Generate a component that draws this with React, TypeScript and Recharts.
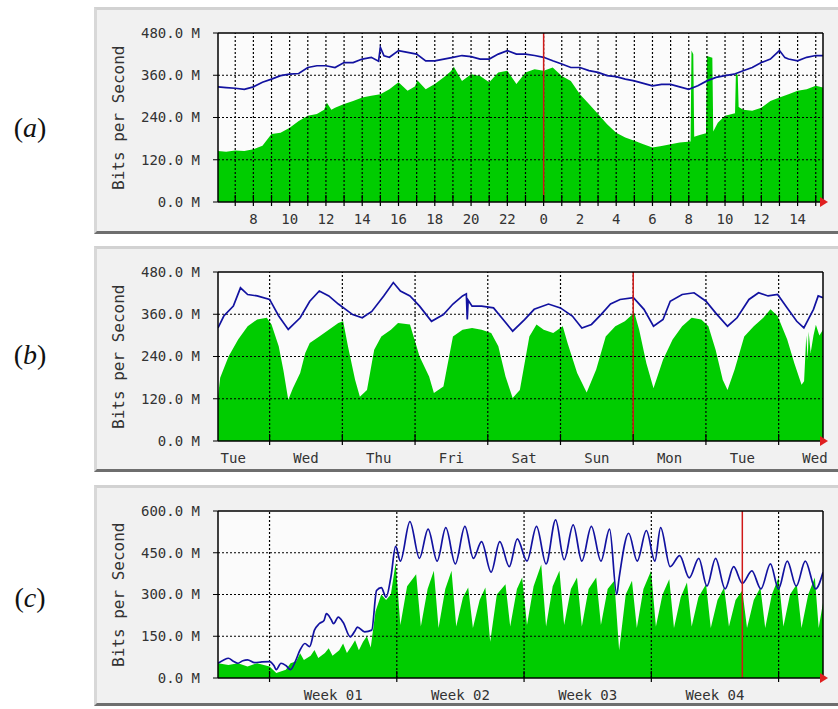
import React from 'react';
import {
  ComposedChart,
  Area,
  Line,
  XAxis,
  YAxis,
  ReferenceLine,
  ReferenceDot,
  CartesianGrid,
} from 'recharts';

type Pt = [number, number];

// ---------- (a) daily graph: x = hours since midnight of first day ----------
const dailyIn: Pt[] = [
  [6.05, 145], [6.5, 143], [7, 146], [7.5, 145], [8, 150], [8.5, 160], [9, 193], [9.5, 197],
  [10, 211], [10.5, 230], [11, 245], [11.5, 250], [11.9, 262], [12.05, 282], [12.3, 262],
  [12.5, 268], [13, 278], [13.5, 287], [14, 297], [14.5, 302], [15, 306], [15.5, 320],
  [16, 340], [16.5, 316], [16.9, 328], [17.05, 345], [17.5, 320], [18, 335], [18.5, 354],
  [18.9, 372], [19.05, 384], [19.5, 344], [20, 363], [20.5, 358], [21, 340], [21.5, 368],
  [22, 373], [22.5, 335], [23, 368], [23.5, 377], [24, 373], [24.5, 382], [25, 358],
  [25.5, 344], [26, 306], [26.5, 278], [27, 250], [27.5, 221], [28, 197], [28.5, 183],
  [29, 174], [29.5, 164], [30, 155], [30.5, 159], [31, 164], [31.5, 169], [32.1, 172],
  [32.15, 430], [32.25, 420], [32.3, 185], [32.6, 190], [32.95, 195], [33.0, 415],
  [33.3, 410], [33.35, 200], [33.6, 225], [34, 245], [34.55, 252], [34.6, 368], [34.7, 360],
  [34.75, 270], [35, 262], [35.5, 259], [36, 268], [36.5, 287], [37, 297], [37.5, 306],
  [38, 316], [38.5, 320], [39, 330], [39.4, 325],
];
const dailyOut: Pt[] = [
  [6.05, 327], [6.5, 325], [7, 323], [7.5, 320], [8, 327], [8.5, 340], [9, 349], [9.5, 359],
  [10, 363], [10.5, 365], [11, 382], [11.5, 387], [12, 387], [12.5, 382], [13, 396],
  [13.5, 396], [14, 406], [14.5, 411], [14.9, 400], [15, 439], [15.2, 415], [15.5, 411],
  [16, 430], [16.5, 425], [17, 420], [17.5, 401], [18, 401], [18.5, 406], [19, 411],
  [19.5, 416], [20, 413], [20.5, 406], [21, 406], [21.5, 420], [22, 430], [22.5, 420],
  [23, 420], [23.5, 416], [24, 411], [24.5, 401], [25, 392], [25.5, 382], [26, 382],
  [26.5, 373], [27, 368], [27.5, 359], [28, 356], [28.5, 349], [29, 344], [29.5, 337],
  [30, 330], [30.5, 334], [31, 334], [31.5, 327], [32, 320], [32.5, 330], [33, 344],
  [33.5, 354], [34, 359], [34.5, 363], [35, 373], [35.5, 382], [36, 396], [36.5, 406],
  [37, 430], [37.3, 410], [37.5, 406], [38, 401], [38.5, 411], [39, 416], [39.4, 416],
];
const dailyMarks = [7, 8, 9, 10, 11, 12, 13, 14, 15, 16, 17, 18, 19, 20, 21, 22, 23, 24, 25, 26, 27, 28, 29, 30, 31, 32, 33, 34, 35, 36, 37, 38, 39];
const dailyLabelAt = [8, 10, 12, 14, 16, 18, 20, 22, 24, 26, 28, 30, 32, 34, 36, 38];
const dailyLabels = ['8', '10', '12', '14', '16', '18', '20', '22', '0', '2', '4', '6', '8', '10', '12', '14'];

// ---------- (b) weekly graph: x = days since Tue 00:00 ----------
const weeklyIn: Pt[] = [
  [0.29, 126], [0.32, 180], [0.435, 240], [0.567, 288], [0.698, 326], [0.829, 345], [0.961, 350],
  [1.026, 331], [1.125, 269], [1.19, 200], [1.256, 117], [1.32, 150], [1.42, 193], [1.49, 250],
  [1.552, 278], [1.683, 297], [1.814, 316], [1.945, 335], [2.011, 340], [2.077, 269],
  [2.175, 174], [2.241, 126], [2.339, 145], [2.438, 259], [2.536, 297], [2.668, 316],
  [2.766, 335], [2.93, 331], [3.062, 240], [3.193, 183], [3.259, 136], [3.39, 155],
  [3.521, 297], [3.653, 316], [3.784, 321], [3.915, 316], [4.047, 307], [4.145, 269],
  [4.244, 183], [4.342, 122], [4.441, 145], [4.572, 297], [4.67, 331], [4.769, 316],
  [4.9, 307], [5.031, 326], [5.097, 278], [5.229, 193], [5.36, 138], [5.491, 203],
  [5.622, 297], [5.754, 326], [5.885, 340], [6.016, 364], [6.082, 316], [6.181, 221],
  [6.279, 150], [6.41, 231], [6.542, 288], [6.673, 326], [6.804, 350], [6.936, 345],
  [7.034, 326], [7.133, 259], [7.231, 174], [7.297, 145], [7.395, 203], [7.527, 297],
  [7.658, 326], [7.789, 350], [7.888, 374], [7.986, 355], [8.118, 288], [8.216, 221],
  [8.315, 160], [8.35, 170], [8.38, 300], [8.4, 230], [8.413, 310], [8.44, 250],
  [8.479, 300], [8.512, 330], [8.56, 300], [8.61, 316],
];
const weeklyOut: Pt[] = [
  [0.29, 321], [0.37, 355], [0.501, 383], [0.599, 435], [0.698, 416], [0.829, 412], [1.0, 402],
  [1.125, 355], [1.256, 317], [1.42, 350], [1.552, 397], [1.683, 426], [1.814, 412],
  [1.945, 389], [2.142, 359], [2.274, 350], [2.405, 368], [2.569, 412], [2.701, 450],
  [2.799, 426], [2.93, 412], [3.062, 383], [3.226, 340], [3.39, 359], [3.521, 389],
  [3.653, 412], [3.705, 418], [3.718, 345], [3.73, 400], [3.784, 383], [3.915, 383],
  [4.079, 378], [4.211, 345], [4.342, 312], [4.506, 345], [4.638, 374], [4.835, 389],
  [4.999, 378], [5.163, 355], [5.294, 321], [5.426, 331], [5.557, 359], [5.688, 389],
  [5.819, 402], [6.003, 407], [6.148, 374], [6.279, 326], [6.41, 345], [6.509, 397],
  [6.673, 416], [6.837, 421], [7.001, 397], [7.133, 364], [7.297, 326], [7.428, 350],
  [7.592, 402], [7.724, 421], [7.855, 412], [7.986, 416], [8.118, 378], [8.249, 340],
  [8.347, 321], [8.479, 374], [8.544, 412], [8.61, 407],
];
const weeklyMarks = [1, 2, 3, 4, 5, 6, 7, 8];
const weeklyLabelAt = [0.5, 1.5, 2.5, 3.5, 4.5, 5.5, 6.5, 7.5, 8.5];
const weeklyLabels = ['Tue', 'Wed', 'Thu', 'Fri', 'Sat', 'Sun', 'Mon', 'Tue', 'Wed'];

// ---------- (c) monthly graph: x = weeks since start of Week 01 ----------
const monthlyIn: Pt[] = [
  [-0.405, 53], [-0.323, 47], [-0.248, 53], [-0.173, 41], [-0.098, 53], [0, 41], [0.053, 18],
  [0.128, 30], [0.165, 53], [0.21, 60], [0.24, 89], [0.27, 65], [0.323, 80], [0.353, 101],
  [0.383, 72], [0.435, 90], [0.465, 107], [0.495, 80], [0.548, 100], [0.578, 124],
  [0.608, 90], [0.645, 115], [0.672, 136], [0.702, 100], [0.735, 130], [0.765, 150],
  [0.795, 110], [0.833, 240], [0.878, 300], [0.916, 280], [0.953, 300],
  [0.991, 414], [1.028, 190], [1.081, 330],
  [1.152, 373], [1.189, 185], [1.242, 320],
  [1.291, 385], [1.328, 180], [1.381, 320],
  [1.43, 385], [1.467, 185], [1.52, 290],
  [1.561, 325], [1.598, 180], [1.651, 280],
  [1.696, 325], [1.734, 130], [1.786, 300],
  [1.854, 337], [1.891, 185], [1.944, 320],
  [1.985, 361], [2.023, 190], [2.075, 330],
  [2.135, 408], [2.173, 185], [2.225, 330],
  [2.278, 385], [2.315, 190], [2.368, 320],
  [2.416, 361], [2.454, 185], [2.507, 320],
  [2.567, 361], [2.604, 190], [2.657, 320],
  [2.709, 349], [2.747, 100], [2.799, 300],
  [2.848, 349], [2.886, 180], [2.938, 320],
  [2.998, 385], [3.036, 185], [3.088, 300],
  [3.141, 355], [3.178, 180], [3.231, 290],
  [3.28, 343], [3.317, 185], [3.37, 290],
  [3.43, 337], [3.467, 180], [3.52, 280],
  [3.572, 325], [3.61, 185], [3.662, 280],
  [3.715, 314], [3.752, 180], [3.805, 280],
  [3.857, 325], [3.895, 180], [3.947, 300],
  [4.0, 361], [4.038, 185], [4.09, 300],
  [4.143, 337], [4.18, 180], [4.233, 300],
  [4.285, 361], [4.315, 180], [4.349, 270],
];
const monthlyOut: Pt[] = [
  [-0.405, 53], [-0.36, 65], [-0.323, 71], [-0.285, 60], [-0.248, 53], [-0.21, 62],
  [-0.173, 65], [-0.116, 55], [-0.06, 58], [0, 59], [0.034, 45], [0.053, 30], [0.09, 53],
  [0.128, 45], [0.165, 30], [0.203, 60], [0.24, 101], [0.278, 124], [0.315, 113],
  [0.353, 172], [0.39, 195], [0.428, 207], [0.447, 231], [0.484, 210], [0.503, 195],
  [0.54, 219], [0.578, 200], [0.634, 148], [0.672, 170], [0.69, 183], [0.747, 166],
  [0.803, 172], [0.841, 314], [0.878, 325], [0.916, 290], [0.953, 361], [0.991, 473],
  [1.028, 420], [1.103, 562], [1.178, 430], [1.246, 535], [1.317, 420], [1.385, 540],
  [1.46, 410], [1.535, 545], [1.602, 430], [1.666, 490], [1.741, 380], [1.809, 490],
  [1.884, 400], [1.947, 500], [2.023, 420], [2.098, 545], [2.173, 410], [2.248, 568],
  [2.315, 425], [2.386, 550], [2.454, 420], [2.529, 545], [2.604, 420], [2.672, 535],
  [2.728, 300], [2.747, 360], [2.822, 520], [2.889, 420], [2.961, 530], [3.028, 420],
  [3.073, 540], [3.148, 400], [3.223, 440], [3.298, 360], [3.373, 430], [3.437, 330],
  [3.505, 430], [3.58, 320], [3.647, 400], [3.715, 340], [3.79, 385], [3.861, 320],
  [3.936, 410], [3.999, 320], [4.068, 420], [4.139, 330], [4.21, 420], [4.291, 320],
  [4.349, 380],
];
const monthlyMarks = [0, 1, 2, 3, 4];
const monthlyLabelAt = [0.5, 1.5, 2.5, 3.5];
const monthlyLabels = ['Week 01', 'Week 02', 'Week 03', 'Week 04'];

const yTicks480 = [0, 120, 240, 360, 480];
const yTicks600 = [0, 150, 300, 450, 600];

const toRows = (a: Pt[]) => a.map(([x, v]) => ({ x, v }));

const MONO = '"DejaVu Sans Mono", "Liberation Mono", monospace';
const GREEN = '#00cc00';
const BLUE = '#1212a0';
const RED = '#d01818';

interface PanelProps {
  top: number;
  height: number;
  xAxisHeight: number;
  xDomain: [number, number];
  yTicks: number[];
  marks: number[];
  labelAt: number[];
  labels: string[];
  redX: number;
  inData: Pt[];
  outData: Pt[];
  smoothOut?: boolean;
  tag: string;
  tagY: number;
}

const CHART_LEFT = 94;
const CHART_WIDTH = 744;
const MARGIN_TOP = 26;

function Panel(p: PanelProps) {
  const labelMap = new Map<number, string>(p.labelAt.map((v, i) => [v, p.labels[i]]));
  const allTicks = Array.from(new Set([...p.marks, ...p.labelAt])).sort((a, b) => a - b);
  const yMax = p.yTicks[p.yTicks.length - 1];
  const plotH = p.height - MARGIN_TOP - p.xAxisHeight;

  const Tick = (t: any) => {
    const v = t.payload.value;
    const lab = labelMap.get(v);
    return (
      <g>
        {p.marks.includes(v) && (
          <line x1={t.x} x2={t.x} y1={t.y - 7} y2={t.y + 4} stroke="#000" strokeWidth={1.2} />
        )}
        {lab !== undefined && (
          <text x={t.x} y={t.y + 22} textAnchor="middle" fontFamily={MONO} fontSize={14} fill="#333">
            {lab}
          </text>
        )}
      </g>
    );
  };

  const Arrow = (s: any) => (
    <polygon
      points={`${s.cx - 3},${s.cy - 5} ${s.cx + 5},${s.cy} ${s.cx - 3},${s.cy + 5}`}
      fill="#e02020"
    />
  );

  return (
    <>
      <div
        style={{
          position: 'absolute',
          left: CHART_LEFT,
          top: p.top,
          width: 760,
          height: p.height,
          boxSizing: 'border-box',
          background: '#f1f1f1',
          borderTop: '3px solid #d2d2d2',
          borderLeft: '3px solid #d8d8d8',
          borderBottom: '3px solid #6e6e6e',
        }}
      />
      <div
        style={{
          position: 'absolute',
          left: 8,
          top: p.tagY - 20,
          width: 44,
          height: 40,
          lineHeight: '40px',
          textAlign: 'center',
          fontFamily: '"Liberation Serif", "DejaVu Serif", serif',
          fontSize: 28,
          color: '#111',
        }}
      >
        (<i>{p.tag}</i>)
      </div>
      <div
        style={{
          position: 'absolute',
          left: 108,
          top: p.top + MARGIN_TOP,
          width: 20,
          height: plotH,
          display: 'flex',
          alignItems: 'center',
          justifyContent: 'center',
          writingMode: 'vertical-rl',
          transform: 'rotate(180deg)',
          fontFamily: MONO,
          fontSize: 16,
          color: '#333',
          whiteSpace: 'nowrap',
        }}
      >
        Bits per Second
      </div>
      <div style={{ position: 'absolute', left: CHART_LEFT, top: p.top }}>
        <ComposedChart
          width={CHART_WIDTH}
          height={p.height}
          margin={{ top: MARGIN_TOP, right: 15, bottom: 0, left: 0 }}
        >
          <CartesianGrid horizontal={false} vertical={false} fill="#fbfbfb" />
          <XAxis
            type="number"
            dataKey="x"
            domain={p.xDomain}
            allowDataOverflow
            ticks={allTicks}
            interval={0}
            tick={Tick}
            tickLine={false}
            tickSize={0}
            tickMargin={0}
            height={p.xAxisHeight}
            axisLine={{ stroke: '#000', strokeWidth: 1.5 }}
          />
          <YAxis
            type="number"
            domain={[0, yMax]}
            allowDataOverflow
            ticks={p.yTicks}
            interval={0}
            width={124}
            tickSize={5}
            tickMargin={13}
            tickLine={{ stroke: '#000' }}
            axisLine={{ stroke: '#000', strokeWidth: 1.5 }}
            tick={{ fontFamily: MONO, fontSize: 14, fill: '#333' }}
            tickFormatter={(v: number) => `${v.toFixed(1)} M`}
          />
          <Area
            data={toRows(p.inData)}
            dataKey="v"
            type="linear"
            stroke="none"
            fill={GREEN}
            fillOpacity={1}
            isAnimationActive={false}
            dot={false}
            activeDot={false}
          />
          {p.yTicks.slice(1, -1).map((y) => (
            <ReferenceLine key={`gy${y}`} y={y} stroke="#000" strokeWidth={1.2} strokeDasharray="2 2" />
          ))}
          {p.marks.map((x) => (
            <ReferenceLine key={`gx${x}`} x={x} stroke="#000" strokeWidth={1.2} strokeDasharray="2 2" />
          ))}
          <Line
            data={toRows(p.outData)}
            dataKey="v"
            type={p.smoothOut ? 'monotone' : 'linear'}
            stroke={BLUE}
            strokeWidth={1.7}
            dot={false}
            activeDot={false}
            isAnimationActive={false}
          />
          <ReferenceLine x={p.redX} stroke={RED} strokeWidth={1.5} />
          <ReferenceLine y={yMax} stroke="#000" strokeWidth={1.5} />
          <ReferenceLine x={p.xDomain[1]} stroke="#000" strokeWidth={1.5} />
          <ReferenceDot x={p.xDomain[1]} y={0} r={4} shape={Arrow} ifOverflow="visible" />
        </ComposedChart>
      </div>
    </>
  );
}

export default function App() {
  return (
    <div
      style={{
        position: 'absolute',
        left: 0,
        top: 0,
        width: 838,
        height: 709,
        overflow: 'hidden',
        background: '#fff',
      }}
    >
      <Panel
        top={7}
        height={227}
        xAxisHeight={32}
        xDomain={[6.05, 39.4]}
        yTicks={yTicks480}
        marks={dailyMarks}
        labelAt={dailyLabelAt}
        labels={dailyLabels}
        redX={24}
        inData={dailyIn}
        outData={dailyOut}
        tag="a"
        tagY={128}
      />
      <Panel
        top={246}
        height={226}
        xAxisHeight={31}
        xDomain={[0.29, 8.61]}
        yTicks={yTicks480}
        marks={weeklyMarks}
        labelAt={weeklyLabelAt}
        labels={weeklyLabels}
        redX={6}
        inData={weeklyIn}
        outData={weeklyOut}
        tag="b"
        tagY={355}
      />
      <Panel
        top={485}
        height={221}
        xAxisHeight={28}
        xDomain={[-0.405, 4.349]}
        yTicks={yTicks600}
        marks={monthlyMarks}
        labelAt={monthlyLabelAt}
        labels={monthlyLabels}
        redX={3.715}
        inData={monthlyIn}
        outData={monthlyOut}
        smoothOut
        tag="c"
        tagY={598}
      />
    </div>
  );
}
